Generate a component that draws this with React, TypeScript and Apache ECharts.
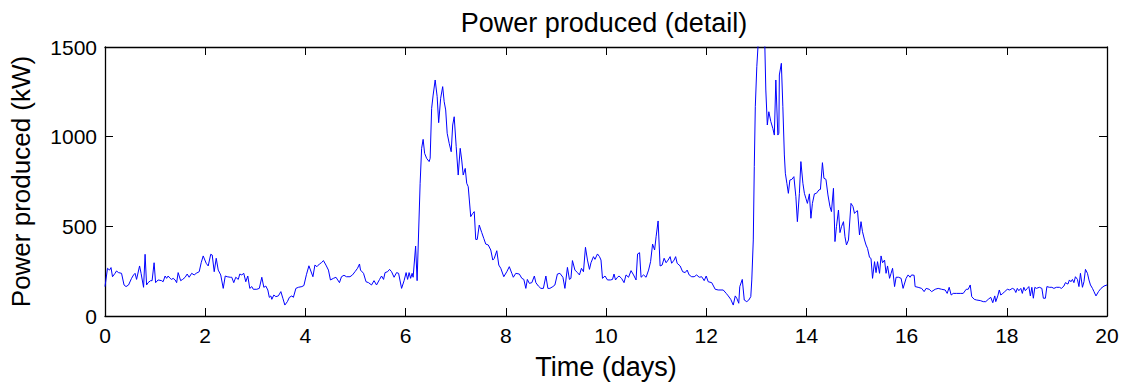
import React, { useEffect, useRef } from "react";
import * as echarts from "echarts";

const chartTitle = "Power produced (detail)";
const xAxisTitle = "Time (days)";
const yAxisTitle = "Power produced (kW)";

const days: number[] = [
  0.00, 0.05, 0.09, 0.12, 0.15, 0.20, 0.23, 0.27, 0.33, 0.38, 0.42, 0.47, 0.53, 0.57, 0.60, 0.63, 0.69, 0.72, 0.77, 0.80,
  0.83, 0.86, 0.91, 0.94, 0.98, 1.01, 1.06, 1.13, 1.16, 1.20, 1.23, 1.26, 1.30, 1.33, 1.36, 1.40, 1.43, 1.46, 1.51, 1.55,
  1.60, 1.64, 1.68, 1.73, 1.78, 1.82, 1.88, 1.92, 1.96, 2.02, 2.06, 2.11, 2.14, 2.18, 2.22, 2.26, 2.31, 2.36, 2.40, 2.44,
  2.50, 2.53, 2.57, 2.61, 2.66, 2.69, 2.73, 2.77, 2.81, 2.85, 2.89, 2.93, 2.96, 3.03, 3.08, 3.13, 3.17, 3.21, 3.25, 3.28,
  3.31, 3.33, 3.37, 3.41, 3.46, 3.51, 3.55, 3.59, 3.64, 3.68, 3.73, 3.76, 3.81, 3.86, 3.93, 3.97, 4.02, 4.07, 4.15, 4.19,
  4.23, 4.28, 4.32, 4.36, 4.41, 4.46, 4.50, 4.56, 4.61, 4.68, 4.72, 4.77, 4.82, 4.89, 4.94, 4.99, 5.04, 5.08, 5.10, 5.16,
  5.21, 5.26, 5.32, 5.37, 5.42, 5.48, 5.52, 5.56, 5.59, 5.64, 5.68, 5.72, 5.77, 5.82, 5.86, 5.92, 5.97, 6.01, 6.04, 6.07,
  6.10, 6.13, 6.15, 6.20, 6.23, 6.29, 6.32, 6.35, 6.38, 6.42, 6.47, 6.49, 6.52, 6.55, 6.59, 6.63, 6.66, 6.70, 6.74, 6.77,
  6.80, 6.83, 6.87, 6.91, 6.94, 6.97, 7.01, 7.05, 7.09, 7.12, 7.15, 7.19, 7.22, 7.25, 7.30, 7.34, 7.37, 7.40, 7.43, 7.47,
  7.52, 7.56, 7.60, 7.65, 7.70, 7.74, 7.77, 7.82, 7.86, 7.90, 7.96, 8.02, 8.07, 8.12, 8.15, 8.20, 8.27, 8.32, 8.36, 8.40,
  8.43, 8.47, 8.52, 8.57, 8.60, 8.65, 8.70, 8.75, 8.80, 8.84, 8.88, 8.94, 8.98, 9.03, 9.08, 9.14, 9.18, 9.23, 9.27, 9.30,
  9.33, 9.38, 9.43, 9.47, 9.51, 9.55, 9.59, 9.63, 9.67, 9.70, 9.75, 9.78, 9.83, 9.87, 9.90, 9.93, 9.98, 10.03, 10.09, 10.13,
  10.16, 10.19, 10.23, 10.26, 10.31, 10.36, 10.40, 10.45, 10.50, 10.55, 10.60, 10.63, 10.67, 10.70, 10.75, 10.80, 10.85, 10.89, 10.93, 10.97,
  11.00, 11.04, 11.08, 11.12, 11.16, 11.20, 11.24, 11.28, 11.31, 11.36, 11.39, 11.42, 11.48, 11.53, 11.58, 11.62, 11.66, 11.71, 11.76, 11.81,
  11.86, 11.91, 11.96, 12.00, 12.04, 12.11, 12.18, 12.24, 12.34, 12.40, 12.44, 12.49, 12.54, 12.58, 12.61, 12.65, 12.67, 12.72, 12.76, 12.81,
  12.85, 12.89, 12.91, 12.94, 12.96, 12.98, 13.01, 13.05, 13.11, 13.17, 13.19, 13.22, 13.25, 13.29, 13.33, 13.36, 13.39, 13.43, 13.45, 13.46,
  13.50, 13.53, 13.56, 13.58, 13.61, 13.64, 13.67, 13.71, 13.75, 13.79, 13.82, 13.86, 13.89, 13.93, 13.96, 13.99, 14.02, 14.06, 14.09, 14.12,
  14.16, 14.20, 14.25, 14.28, 14.32, 14.35, 14.39, 14.43, 14.47, 14.50, 14.54, 14.57, 14.60, 14.64, 14.67, 14.70, 14.74, 14.77, 14.80, 14.84,
  14.89, 14.93, 14.96, 14.99, 15.02, 15.06, 15.09, 15.12, 15.16, 15.19, 15.22, 15.26, 15.29, 15.32, 15.36, 15.39, 15.42, 15.46, 15.49, 15.52,
  15.56, 15.59, 15.62, 15.66, 15.69, 15.72, 15.76, 15.79, 15.84, 15.89, 15.93, 15.99, 16.03, 16.07, 16.10, 16.15, 16.17, 16.23, 16.30, 16.35,
  16.39, 16.45, 16.50, 16.57, 16.63, 16.70, 16.77, 16.81, 16.85, 16.89, 16.93, 17.00, 17.07, 17.13, 17.19, 17.23, 17.27, 17.30, 17.35, 17.40,
  17.47, 17.53, 17.58, 17.63, 17.68, 17.72, 17.76, 17.78, 17.82, 17.85, 17.88, 17.92, 17.96, 18.01, 18.06, 18.11, 18.15, 18.18, 18.21, 18.24,
  18.28, 18.31, 18.34, 18.37, 18.41, 18.44, 18.47, 18.50, 18.53, 18.56, 18.59, 18.65, 18.70, 18.73, 18.77, 18.80, 18.85, 18.90, 18.94, 18.99,
  19.05, 19.09, 19.14, 19.17, 19.22, 19.25, 19.28, 19.31, 19.34, 19.37, 19.41, 19.44, 19.47, 19.51, 19.54, 19.57, 19.61, 19.64, 19.67, 19.71,
  19.74, 19.78, 19.83, 19.88, 19.94, 20.00,
];

const powerKW: number[] = [
  164, 266, 256, 270, 219, 238, 251, 242, 238, 173, 164, 173, 210, 229, 238, 204, 279, 238, 160, 344,
  173, 186, 197, 197, 297, 186, 201, 197, 191, 223, 210, 223, 210, 204, 210, 201, 186, 242, 197, 204,
  216, 234, 216, 238, 229, 238, 247, 297, 335, 294, 279, 344, 340, 247, 322, 256, 229, 154, 223, 219,
  216, 216, 186, 216, 204, 234, 229, 238, 191, 223, 154, 164, 149, 149, 154, 216, 160, 167, 145, 104,
  112, 93, 117, 108, 112, 136, 99, 61, 80, 104, 112, 104, 154, 160, 164, 170, 230, 280, 219, 284,
  275, 290, 297, 309, 284, 256, 201, 210, 216, 186, 219, 227, 219, 219, 229, 247, 266, 290, 256, 238,
  191, 186, 173, 197, 173, 204, 223, 204, 242, 247, 260, 247, 216, 242, 238, 154, 197, 242, 204, 242,
  210, 238, 216, 390, 197, 740, 935, 985, 907, 879, 861, 879, 1158, 1232, 1316, 1223, 1078, 1214, 1279, 1195,
  1149, 1019, 963, 916, 1065, 1111, 944, 786, 935, 870, 786, 823, 740, 721, 554, 572, 582, 427, 427, 507,
  465, 433, 401, 396, 368, 312, 321, 364, 284, 266, 219, 247, 275, 238, 216, 238, 234, 210, 204, 154,
  204, 182, 186, 223, 186, 167, 154, 154, 223, 154, 154, 164, 173, 234, 238, 216, 154, 271, 204, 210,
  309, 256, 242, 229, 266, 247, 383, 312, 260, 297, 331, 316, 346, 331, 312, 210, 223, 201, 201, 204,
  234, 201, 216, 223, 210, 186, 229, 216, 253, 229, 201, 346, 353, 216, 229, 216, 256, 303, 401, 368,
  442, 530, 279, 284, 322, 297, 312, 331, 294, 312, 331, 294, 279, 247, 242, 256, 229, 219, 219, 229,
  216, 219, 197, 223, 191, 186, 149, 145, 145, 126, 112, 93, 61, 112, 99, 71, 164, 204, 89, 80,
  89, 108, 201, 424, 833, 1167, 1390, 1580, 1620, 1510, 1260, 1065, 1139, 1084, 1046, 1009, 1316, 1009, 1019, 1344,
  1409, 1167, 898, 796, 740, 684, 758, 762, 777, 665, 526, 684, 861, 740, 684, 656, 628, 681, 545, 628,
  681, 684, 703, 706, 855, 768, 762, 675, 610, 582, 712, 415, 498, 591, 465, 498, 526, 442, 396, 424,
  628, 610, 572, 582, 587, 452, 526, 470, 424, 396, 377, 327, 321, 210, 303, 242, 303, 238, 335, 297,
  312, 238, 279, 210, 238, 266, 164, 216, 216, 210, 154, 210, 229, 216, 229, 227, 164, 160, 154, 136,
  154, 149, 136, 149, 154, 149, 145, 126, 160, 117, 126, 126, 126, 126, 149, 149, 173, 108, 93, 89,
  86, 80, 80, 93, 104, 74, 112, 80, 112, 145, 117, 126, 136, 149, 145, 154, 149, 131, 154, 141,
  154, 126, 160, 141, 154, 164, 112, 160, 99, 160, 154, 160, 154, 99, 99, 164, 160, 160, 154, 160,
  160, 154, 167, 186, 178, 201, 191, 204, 186, 219, 204, 164, 238, 160, 191, 260, 238, 201, 173, 154,
  136, 112, 136, 154, 167, 173,
];

const FONT = "'Liberation Sans', Arial, sans-serif";

export default function App() {
  const ref = useRef<HTMLDivElement>(null);
  useEffect(() => {
    document.body.style.margin = "0";
    if (!ref.current) return;
    const chart = echarts.init(ref.current, null, { renderer: "svg" });
    const n = Math.min(days.length, powerKW.length);
    const data: [number, number][] = [];
    for (let i = 0; i < n; i++) data.push([days[i], powerKW[i]]);

    const tickStyle = { show: true, inside: true, length: 8, lineStyle: { color: "#000", width: 1 } };
    const lineStyle = { show: true, onZero: false, lineStyle: { color: "#000", width: 1.3 } };

    chart.setOption({
      animation: false,
      backgroundColor: "#fff",
      graphic: [
        {
          type: "text",
          x: 604,
          y: 9,
          style: {
            text: chartTitle,
            font: `27px ${FONT}`,
            fill: "#000",
            textAlign: "center",
            textVerticalAlign: "top",
          },
        },
      ],
      grid: {
        left: 105,
        right: 19,
        top: 47,
        bottom: 69,
        containLabel: false,
        outerBoundsMode: "none",
      },
      xAxis: [
        {
          type: "value",
          min: 0,
          max: 20,
          interval: 2,
          position: "bottom",
          axisLine: lineStyle,
          axisTick: tickStyle,
          splitLine: { show: false },
          axisLabel: {
            fontSize: 21,
            fontFamily: FONT,
            color: "#000",
            margin: 9,
            formatter: (v: number) => String(v),
          },
          name: xAxisTitle,
          nameLocation: "middle",
          nameGap: 37,
          nameTextStyle: { fontSize: 27, fontFamily: FONT, color: "#000" },
        },
        {
          type: "value",
          min: 0,
          max: 20,
          interval: 2,
          position: "top",
          axisLine: lineStyle,
          axisTick: tickStyle,
          splitLine: { show: false },
          axisLabel: { show: false },
        },
      ],
      yAxis: [
        {
          type: "value",
          min: 0,
          max: 1500,
          interval: 500,
          position: "left",
          axisLine: lineStyle,
          axisTick: tickStyle,
          splitLine: { show: false },
          axisLabel: {
            fontSize: 21,
            fontFamily: FONT,
            color: "#000",
            margin: 8,
            formatter: (v: number) => String(v),
          },
          name: yAxisTitle,
          nameLocation: "middle",
          nameGap: 71,
          nameTextStyle: { fontSize: 26, fontFamily: FONT, color: "#000" },
        },
        {
          type: "value",
          min: 0,
          max: 1500,
          interval: 500,
          position: "right",
          axisLine: lineStyle,
          axisTick: tickStyle,
          splitLine: { show: false },
          axisLabel: { show: false },
        },
      ],
      series: [
        {
          type: "line",
          xAxisIndex: 0,
          yAxisIndex: 0,
          data,
          showSymbol: false,
          symbol: "none",
          clip: true,
          lineStyle: { color: "#0000ff", width: 1 },
        },
      ],
    });
    return () => chart.dispose();
  }, []);
  return <div ref={ref} style={{ position: "fixed", left: 0, top: 0, width: 1126, height: 385 }} />;
}
